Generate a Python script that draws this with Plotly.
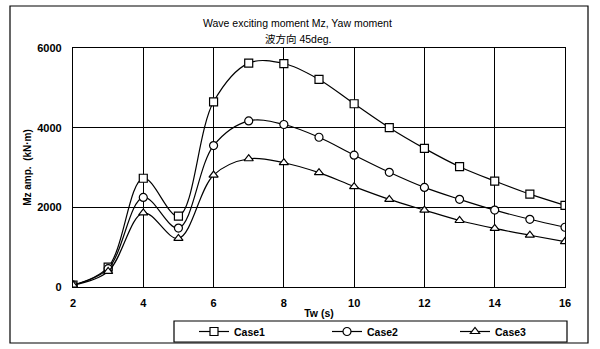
import plotly.graph_objects as go

tw = [2, 3, 4, 5, 6, 7, 8, 9, 10, 11, 12, 13, 14, 15, 16]
case1 = [50, 500, 2730, 1780, 4650, 5620, 5610, 5210, 4600, 4000, 3480, 3020, 2660, 2330, 2050]
case2 = [50, 460, 2250, 1480, 3550, 4170, 4080, 3760, 3310, 2880, 2500, 2200, 1930, 1700, 1500]
case3 = [50, 390, 1860, 1220, 2810, 3220, 3120, 2870, 2520, 2200, 1930, 1670, 1470, 1300, 1140]
names = ["Case1", "Case2", "Case3"]
symbols = ["square", "circle", "triangle-up"]
x_ticks = [2, 4, 6, 8, 10, 12, 14, 16]
y_ticks = [0, 2000, 4000, 6000]

FONT = "Arial, Liberation Sans, Noto Sans CJK JP, sans-serif"

L, R, T, B = 73, 565, 48, 287
W, H = 600, 349
pw, ph = R - L, B - T

def px(x):
    return (x - L) / pw

def py(y):
    return (B - y) / ph

legend_x = [194, 327, 455]
legend_ids = ["legend", "legend2", "legend3"]

fig = go.Figure()
for name, vals, sym, lid in zip(names, [case1, case2, case3], symbols, legend_ids):
    fig.add_trace(go.Scatter(
        x=tw, y=vals, name=name, mode="lines+markers", legend=lid,
        line=dict(color="black", width=1.2, shape="spline", smoothing=1.0),
        marker=dict(symbol=sym, size=8, color="white",
                    line=dict(color="black", width=1.2)),
    ))

legend_common = dict(orientation="h", yanchor="middle", xanchor="left",
                     bgcolor="rgba(0,0,0,0)", borderwidth=0,
                     font=dict(size=10.5, family=FONT, weight="bold"))
layout_legends = {}
for lid, lx in zip(legend_ids, legend_x):
    layout_legends[lid] = dict(legend_common, x=px(lx), y=py(331.5))

fig.update_layout(
    width=W, height=H,
    margin=dict(l=L, r=W - R, t=T, b=H - B, autoexpand=False),
    paper_bgcolor="white", plot_bgcolor="white",
    font=dict(family=FONT, size=11, color="black"),
    showlegend=True,
    xaxis=dict(range=[2, 16], tickvals=x_ticks, showgrid=True, gridcolor="black",
               gridwidth=1, showline=True, linecolor="black", linewidth=1.2, mirror=True,
               ticks="", zeroline=False, ticklabelstandoff=6,
               tickfont=dict(size=11, family=FONT, weight="bold"),
               title=dict(text="Tw (s)", standoff=1, font=dict(size=10.5, family=FONT, weight="bold"))),
    yaxis=dict(range=[0, 6000], tickvals=y_ticks, showgrid=True, gridcolor="black",
               gridwidth=1, showline=True, linecolor="black", linewidth=1.2, mirror=True,
               ticks="", zeroline=False, ticklabelstandoff=8,
               tickfont=dict(size=11, family=FONT, weight="bold"),
               title=dict(text="Mz amp.  (kN·m)", standoff=3, font=dict(size=10, family=FONT, weight="bold"))),
    shapes=[
        dict(type="rect", xref="paper", yref="paper", x0=px(10), x1=px(588), y0=py(6), y1=py(343),
             line=dict(color="black", width=1.2), layer="below"),
        dict(type="rect", xref="paper", yref="paper", x0=px(174), x1=px(567), y0=py(321), y1=py(342),
             line=dict(color="black", width=1.2)),
    ],
    annotations=[
        dict(text="Wave exciting moment Mz, Yaw moment", xref="paper", yref="paper",
             x=px(297), y=py(23), xanchor="center", yanchor="middle", showarrow=False,
             font=dict(size=10.5, family=FONT)),
        dict(text="波方向 45deg.", xref="paper", yref="paper",
             x=px(298), y=py(39), xanchor="center", yanchor="middle", showarrow=False,
             font=dict(size=10.5, family=FONT)),
    ],
    **layout_legends,
)

fig.write_html("out.html")
